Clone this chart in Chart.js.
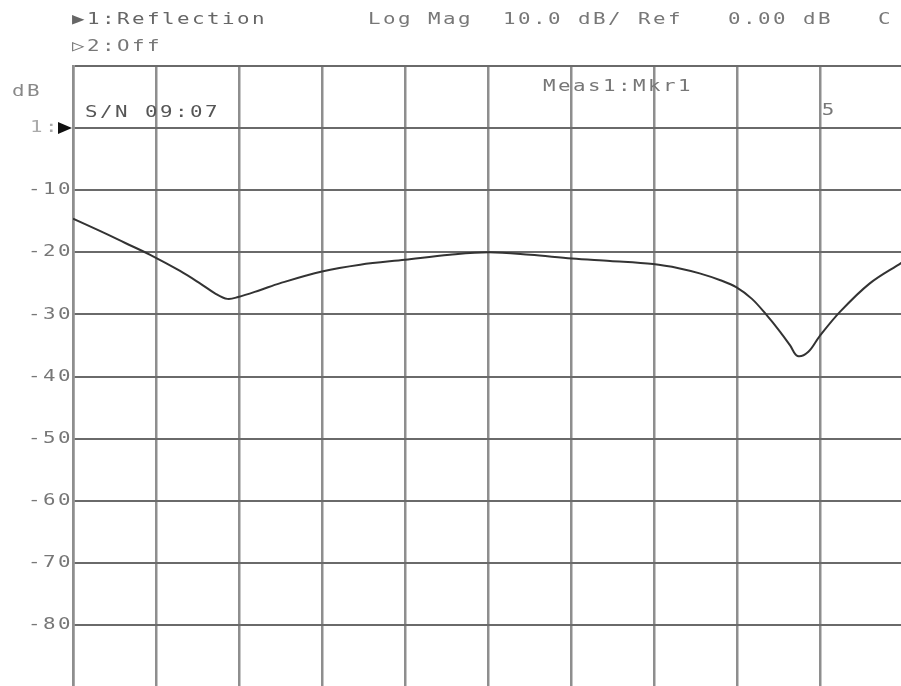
<!DOCTYPE html>
<html>
<head>
<meta charset="utf-8">
<script src="https://cdn.jsdelivr.net/npm/chart.js@4/dist/chart.umd.min.js"></script>
<style>
  html, body { margin: 0; padding: 0; background: #fff; overflow: hidden; }
  #wrap { position: absolute; left: 0; top: 0; width: 910px; height: 690px; }
</style>
</head>
<body>
<div id="wrap"><canvas id="vna" width="910" height="690"></canvas></div>
<script>
// Trace : position horizontale en divisions (0..10), amplitude en dB
const xDiv = [0, 0.33, 0.63, 0.93, 1.29, 1.53, 1.71, 1.86, 1.99, 2.25, 2.49, 3.0, 3.46, 4.0, 4.54, 5.01, 5.51, 6.01, 6.47, 6.99, 7.31, 7.55, 7.80, 7.99, 8.18, 8.35, 8.52, 8.64, 8.73, 8.86, 8.99, 9.24, 9.60, 9.98, 10];
const traceDb = [-14.6, -16.6, -18.5, -20.4, -23.0, -25.0, -26.6, -27.5, -27.2, -26.1, -25.0, -23.1, -22.0, -21.2, -20.4, -20.0, -20.4, -21.0, -21.4, -21.9, -22.6, -23.4, -24.5, -25.6, -27.5, -30.0, -32.8, -35.0, -36.7, -36.0, -33.6, -29.6, -25.0, -21.7, -21.5];

// Graduations de l'axe vertical (dB) et libellés
const yTickValues = [-10, -20, -30, -40, -50, -60, -70, -80];
const yTickLabels = ['-10', '-20', '-30', '-40', '-50', '-60', '-70', '-80'];

// Textes d'en-tête de l'analyseur
const headerLine1 = '\u25B61:Reflection';
const headerLine2 = '\u25B72:Off';
const headerScale = 'Log Mag  10.0 dB/ Ref   0.00 dB   C';
const measLabel = 'Meas1:Mkr1';
const serialLabel = 'S/N 09:07';
const markerLabel = '5';
const markerPos = 9.02;

const PITCH = 15;
const FONT = "16px 'DejaVu Sans Mono'";

// Texte à pas fixe, façon traceur (glyphes élargis)
function plotText(ctx, str, x, y, color) {
    ctx.fillStyle = color;
    [...str].forEach((ch, i) => {
        ctx.save();
        ctx.translate(x + i * PITCH, y);
        ctx.scale(1.3, 1);
        ctx.fillText(ch, 0, 0);
        ctx.restore();
    });
}

const annotations = {
    id: 'annotations',
    afterDraw(chart) {
        const ctx = chart.ctx;
        const yScale = chart.scales.y;
        const xScale = chart.scales.x;
        ctx.save();
        ctx.font = FONT;
        ctx.textBaseline = 'middle';
        ctx.textAlign = 'left';

        plotText(ctx, headerLine1, 72, 20, '#666');
        plotText(ctx, headerLine2, 72, 47, '#777');
        plotText(ctx, headerScale, 368, 20, '#777');
        plotText(ctx, 'dB', 12, 92, '#888');
        plotText(ctx, measLabel, 543, 87, '#777');
        plotText(ctx, serialLabel, 85, 113, '#555');
        plotText(ctx, markerLabel, xScale.getPixelForValue(markerPos), 111, '#777');

        // Libellés des graduations, alignés à droite
        yTickValues.forEach((v, i) => {
            const label = yTickLabels[i];
            const py = yScale.getPixelForValue(v);
            plotText(ctx, label, 72 - label.length * PITCH + 1, py, '#777');
        });

        // Référence 0 dB : "1:" et flèche pleine
        const y0 = yScale.getPixelForValue(0);
        plotText(ctx, '1:', 30, y0, '#aaa');
        ctx.fillStyle = '#111';
        ctx.beginPath();
        ctx.moveTo(58, y0 - 6);
        ctx.lineTo(72, y0);
        ctx.lineTo(58, y0 + 6);
        ctx.closePath();
        ctx.fill();
        ctx.restore();
    }
};

new Chart(document.getElementById('vna').getContext('2d'), {
    type: 'line',
    data: {
        datasets: [{
            data: xDiv.map((x, i) => ({ x: x, y: traceDb[i] })),
            borderColor: '#333',
            borderWidth: 2,
            pointRadius: 0,
            tension: 0.35,
            fill: false
        }]
    },
    options: {
        responsive: false,
        animation: false,
        layout: { padding: { left: 73, top: 66, right: 7, bottom: 3 } },
        plugins: {
            legend: { display: false },
            tooltip: { enabled: false }
        },
        scales: {
            x: {
                type: 'linear',
                min: 0,
                max: 10,
                ticks: { display: false, stepSize: 1 },
                grid: { color: '#8e8e8e', lineWidth: 2.5, drawTicks: false },
                border: { display: false },
                afterFit: s => { s.height = 0; }
            },
            y: {
                type: 'linear',
                min: -90,
                max: 10,
                ticks: { display: false, stepSize: 10 },
                grid: { color: '#6a6a6a', lineWidth: 2, drawTicks: false },
                border: { display: true, color: '#8e8e8e', width: 2.5 },
                afterFit: s => { s.width = 0; }
            }
        }
    },
    plugins: [annotations]
});
</script>
</body>
</html>
